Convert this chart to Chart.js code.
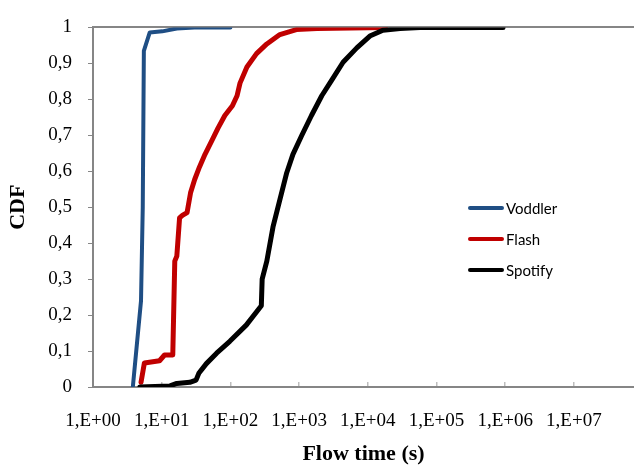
<!DOCTYPE html>
<html>
<head>
<meta charset="utf-8">
<script src="https://cdn.jsdelivr.net/npm/chart.js@4"></script>
<style>
  body { margin: 0; background: #fff; }
  #wrap { width: 634px; height: 468px; }
</style>
</head>
<body>
<div id="wrap"><canvas id="flowCdf" width="634" height="468"></canvas></div>
<script>
// values (flow time in seconds, CDF)
var voddlerTime = [3.8, 5.0, 5.3, 5.5, 6.7, 10.2, 16.6, 30, 100];
var voddlerCdf  = [0, 0.24, 0.50, 0.935, 0.986, 0.989, 0.997, 1, 1];

var flashTime = [5.0, 5.6, 9.3, 11.0, 14.5, 15.5, 16.6, 18.2, 20, 23.4, 26.3, 30.2, 35.5, 42.7, 53.7, 66, 83, 107, 125, 138, 174, 240, 339, 525, 912, 1820, 18000];
var flashCdf  = [0.013, 0.067, 0.073, 0.089, 0.089, 0.35, 0.364, 0.47, 0.477, 0.485, 0.54, 0.577, 0.612, 0.647, 0.685, 0.72, 0.755, 0.782, 0.81, 0.845, 0.89, 0.927, 0.954, 0.98, 0.994, 0.997, 1];

var spotifyTime = [4.8, 13.2, 16.6, 25.7, 31.6, 34.7, 44.7, 63, 98, 170, 282, 290, 339, 417, 540, 661, 813, 1096, 1514, 2138, 3020, 4365, 6918, 10715, 16596, 29512, 57544, 930000];
var spotifyCdf  = [0, 0.003, 0.01, 0.013, 0.019, 0.038, 0.065, 0.094, 0.127, 0.172, 0.226, 0.30, 0.35, 0.445, 0.53, 0.596, 0.647, 0.70, 0.755, 0.81, 0.855, 0.903, 0.943, 0.976, 0.992, 0.997, 1, 1];

var seriesNames = ['Voddler', 'Flash', 'Spotify'];
var xTicks = [1e0, 1e1, 1e2, 1e3, 1e4, 1e5, 1e6, 1e7];
var xTickLabels = ['1,E+00', '1,E+01', '1,E+02', '1,E+03', '1,E+04', '1,E+05', '1,E+06', '1,E+07'];

function toPoints(xs, ys) {
    return xs.map(function (x, i) { return { x: x, y: ys[i] }; });
}

var axisGray = '#868686';

// legend drawn inside the plot, like the original
var innerLegend = {
    id: 'innerLegend',
    afterDraw: function (chart) {
        var ctx = chart.ctx;
        ctx.save();
        chart.data.datasets.forEach(function (ds, i) {
            var y = 208 + i * 31;
            ctx.strokeStyle = ds.borderColor;
            ctx.lineWidth = 4;
            ctx.lineCap = 'round';
            ctx.beginPath();
            ctx.moveTo(470, y);
            ctx.lineTo(502, y);
            ctx.stroke();
            ctx.fillStyle = '#000';
            ctx.font = '15px Lato';
            ctx.textBaseline = 'middle';
            ctx.fillText(ds.label, 506, y + 1);
        });
        ctx.restore();
    }
};

var flowCdf = new Chart(document.getElementById('flowCdf').getContext('2d'), {
    type: 'line',
    data: {
        datasets: [{
            label: seriesNames[0],
            data: toPoints(voddlerTime, voddlerCdf),
            borderColor: '#1F4E84',
            borderWidth: 4,
            order: 2
        }, {
            label: seriesNames[1],
            data: toPoints(flashTime, flashCdf),
            borderColor: '#C00000',
            borderWidth: 5,
            order: 1
        }, {
            label: seriesNames[2],
            data: toPoints(spotifyTime, spotifyCdf),
            borderColor: '#000000',
            borderWidth: 5,
            order: 0
        }]
    },
    options: {
        responsive: false,
        animation: false,
        layout: { padding: { top: 16, right: 0, bottom: 0, left: 0 } },
        elements: {
            point: { radius: 0 },
            line: { tension: 0, borderJoinStyle: 'round', borderCapStyle: 'round' }
        },
        plugins: {
            legend: { display: false },
            tooltip: { enabled: false }
        },
        scales: {
            x: {
                type: 'logarithmic',
                min: 1,
                max: 7.5e7,
                afterBuildTicks: function (scale) {
                    scale.ticks = xTicks.map(function (v) { return { value: v }; });
                },
                afterFit: function (scale) { scale.height = 81; },
                ticks: {
                    autoSkip: false,
                    maxRotation: 0,
                    padding: 28,
                    color: '#000',
                    font: { family: 'Liberation Serif', size: 19 },
                    callback: function (v) {
                        var i = xTicks.indexOf(v);
                        return i >= 0 ? xTickLabels[i] : '';
                    }
                },
                grid: { drawOnChartArea: false, tickLength: -5, color: '#BDBDBD', lineWidth: 1.5 },
                border: { color: axisGray, width: 2 },
                title: {
                    display: true,
                    text: 'Flow time (s)',
                    color: '#000',
                    font: { family: 'Liberation Serif', size: 22, weight: 'bold' },
                    padding: { top: 2, bottom: 0 }
                }
            },
            xTop: {
                type: 'linear',
                position: 'top',
                display: true,
                afterFit: function (scale) { scale.height = 0; },
                ticks: { display: false },
                grid: { drawOnChartArea: false, drawTicks: false },
                border: { color: axisGray, width: 2 }
            },
            y: {
                min: 0,
                max: 1,
                afterFit: function (scale) { scale.width = 93; },
                ticks: {
                    stepSize: 0.1,
                    padding: 16,
                    color: '#000',
                    font: { family: 'Liberation Serif', size: 19 },
                    callback: function (v) {
                        return String(Math.round(v * 10) / 10).replace('.', ',');
                    }
                },
                grid: { drawOnChartArea: false, tickLength: 5, color: axisGray, lineWidth: 1 },
                border: { color: axisGray, width: 2 },
                title: {
                    display: true,
                    text: 'CDF',
                    color: '#000',
                    font: { family: 'Liberation Serif', size: 22, weight: 'bold' },
                    padding: { top: 5, bottom: 0 }
                }
            }
        }
    },
    plugins: [innerLegend]
});
</script>
</body>
</html>
